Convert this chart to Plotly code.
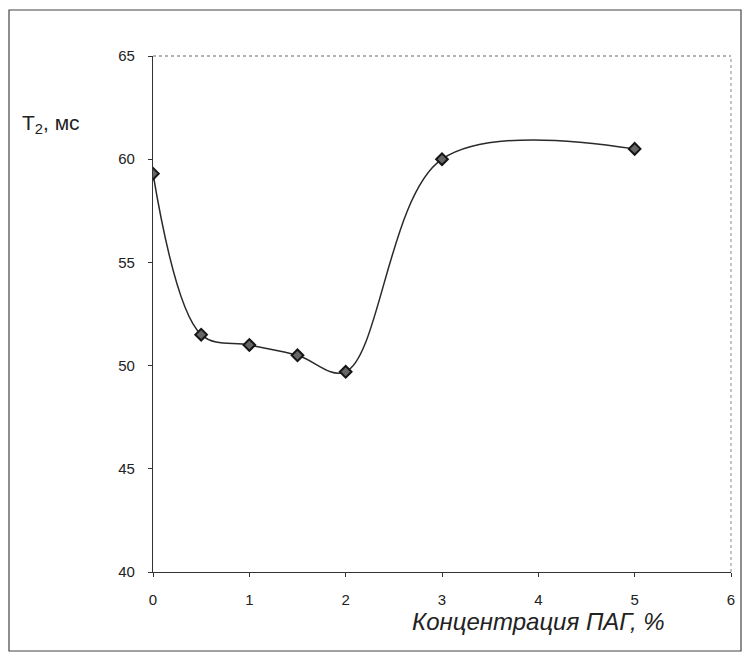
import plotly.graph_objects as go

conc = [0, 0.5, 1, 1.5, 2, 3, 5]
t2 = [59.3, 51.5, 51.0, 50.5, 49.7, 60.0, 60.5]
x_ticks = [0, 1, 2, 3, 4, 5, 6]
y_ticks = [40, 45, 50, 55, 60, 65]

W, H = 746, 652
L, R, T, B = 153, 15, 56, 80
pw, ph = W - L - R, H - T - B


def px(p):
    return (p - L) / pw


def py(q):
    return (H - B - q) / ph


fig = go.Figure()
fig.add_trace(go.Scatter(
    x=conc, y=t2, mode="lines+markers",
    line=dict(color="#2a2a2a", width=1.5, shape="spline", smoothing=1.0),
    marker=dict(symbol="diamond", size=9, color="#666666",
                line=dict(color="#151515", width=2)),
    showlegend=False, hoverinfo="skip",
))

axis_font = dict(family="Liberation Sans, Arial, sans-serif", size=15, color="#222222")

fig.update_xaxes(range=[0, 6], tickvals=x_ticks, ticktext=[str(v) for v in x_ticks],
                 showgrid=False, zeroline=False, showline=True, linecolor="#333333",
                 linewidth=1.2, ticks="outside", ticklen=4, tickcolor="#333333",
                 tickfont=axis_font, ticklabelstandoff=10)
fig.update_yaxes(range=[40, 65], tickvals=y_ticks, ticktext=[str(v) for v in y_ticks],
                 showgrid=False, zeroline=False, showline=True, linecolor="#333333",
                 linewidth=1.2, ticks="outside", ticklen=4, tickcolor="#333333",
                 tickfont=axis_font, ticklabelstandoff=10)

# plot area top & right dotted borders
fig.add_shape(type="line", xref="paper", yref="paper", x0=0, x1=1, y0=1, y1=1,
              line=dict(color="#666666", width=1, dash="dot"))
fig.add_shape(type="line", xref="paper", yref="paper", x0=1, x1=1, y0=0, y1=1,
              line=dict(color="#888888", width=1, dash="dot"))

# outer frame
fig.add_shape(type="rect", xref="paper", yref="paper",
              x0=px(9), x1=px(741), y0=py(651), y1=py(10),
              line=dict(color="#444444", width=1.2))

fig.add_annotation(xref="paper", yref="paper", x=px(20), y=py(124),
                   xanchor="left", yanchor="middle", showarrow=False,
                   text="T<sub>2</sub>, мс",
                   font=dict(family="Liberation Sans, Arial, sans-serif", size=21, color="#222222"))
fig.add_annotation(xref="paper", yref="paper", x=px(538), y=py(621),
                   xanchor="center", yanchor="middle", showarrow=False,
                   text="<i>Концентрация ПАГ, %</i>",
                   font=dict(family="Liberation Sans, Arial, sans-serif", size=24, color="#222222"))

fig.update_layout(width=W, height=H, margin=dict(l=L, r=R, t=T, b=B),
                  paper_bgcolor="white", plot_bgcolor="white")

fig.write_html("out.html")
